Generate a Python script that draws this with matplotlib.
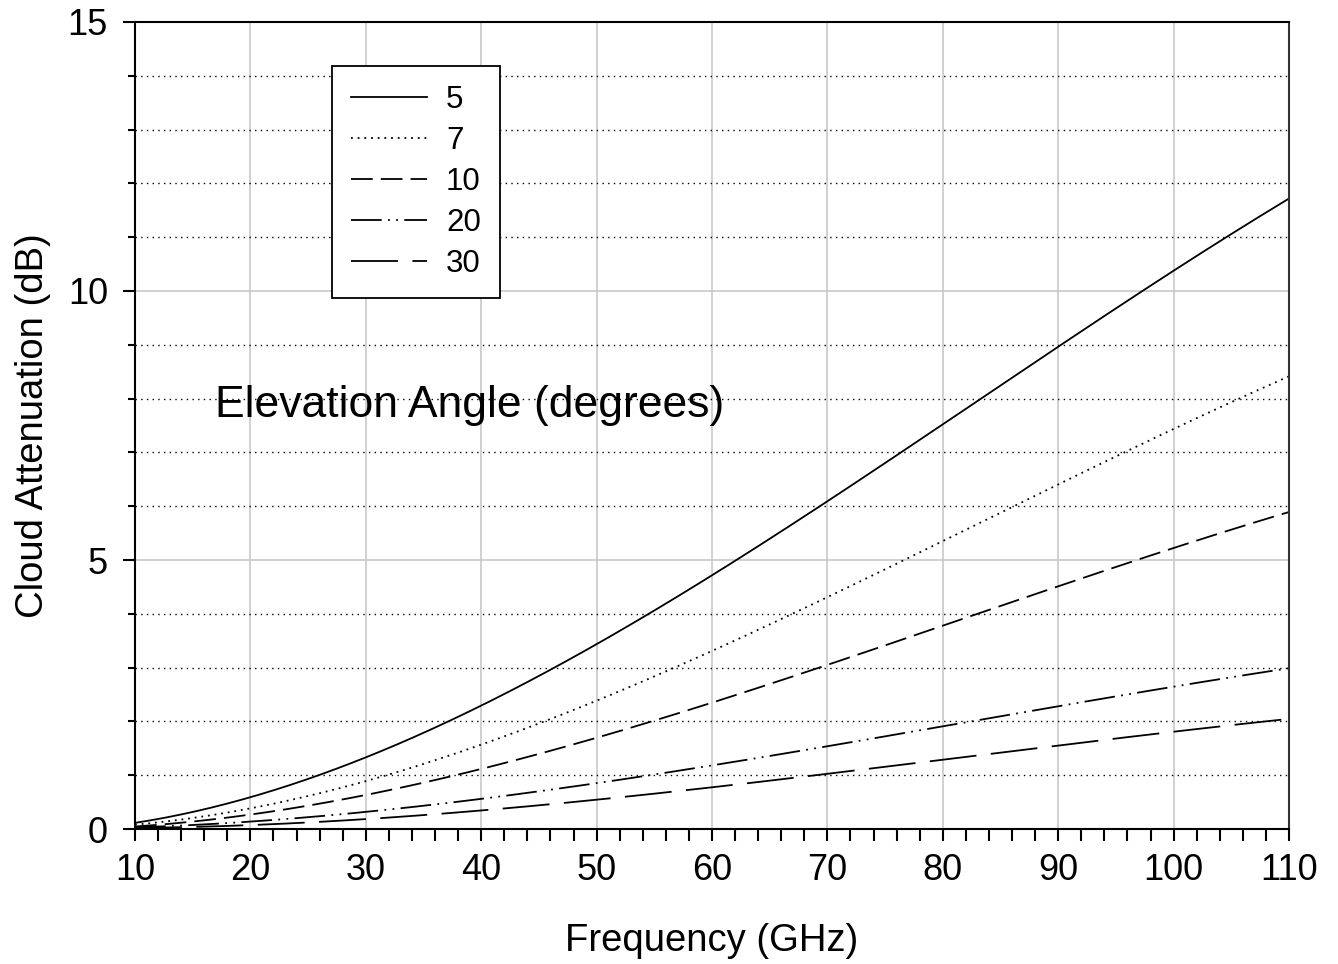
import numpy as np
import matplotlib
matplotlib.use("Agg")
import matplotlib.pyplot as plt
from matplotlib.ticker import MultipleLocator

plt.rcParams["font.family"] = ["Liberation Sans", "DejaVu Sans"]

# Frequency (GHz) and cloud attenuation (dB)
freq = [10, 20, 30, 40, 50, 60, 70, 80, 90, 100, 110]
att_5 = [0.13, 0.59, 1.28, 2.29, 3.51, 4.72, 6.06, 7.50, 9.00, 10.35, 11.73]
att_7 = [0.09, 0.39, 0.86, 1.56, 2.40, 3.33, 4.31, 5.37, 6.39, 7.40, 8.44]
att_10 = [0.06, 0.26, 0.61, 1.12, 1.71, 2.36, 3.05, 3.79, 4.50, 5.20, 5.91]
att_20 = [0.03, 0.14, 0.32, 0.56, 0.86, 1.17, 1.54, 1.91, 2.29, 2.64, 2.99]
att_30 = [0.02, 0.07, 0.19, 0.35, 0.54, 0.78, 1.02, 1.28, 1.56, 1.82, 2.04]

series = [
    ("5", att_5, "-"),
    ("7", att_7, (0, (1, 2.7))),
    ("10", att_10, (0, (12, 4.5))),
    ("20", att_20, (0, (17, 3.5, 1, 3.5, 1, 3.5))),
    ("30", att_30, (0, (26, 8))),
]

fig = plt.figure(figsize=(13.38, 9.64), dpi=100)
ax = fig.add_axes([0.1009, 0.1400, 0.8625, 0.8372])

# smooth curves through the read points
f_fine = np.linspace(10, 110, 300)
for label, vals, ls in series:
    coef = np.polyfit(freq, vals, 3)
    ax.plot(f_fine, np.polyval(coef, f_fine), color="black", lw=1.3,
            linestyle=ls, label=label)

ax.set_xlim(10, 110)
ax.set_ylim(0, 15)
ax.xaxis.set_major_locator(MultipleLocator(10))
ax.xaxis.set_minor_locator(MultipleLocator(2))
ax.yaxis.set_major_locator(MultipleLocator(5))
ax.yaxis.set_minor_locator(MultipleLocator(1))

ax.grid(which="major", axis="both", color="#c8c8c8", lw=1.2)
ax.grid(which="minor", axis="y", color="black", lw=1.0, linestyle=(0, (1, 3.1)))
ax.set_axisbelow(True)

ax.tick_params(which="major", direction="out", length=8.5, width=1.5,
               labelsize=26, pad=9)
ax.tick_params(axis="y", which="major", pad=11)
ax.tick_params(axis="x", which="minor", direction="out", length=8.5, width=1.5)
ax.tick_params(axis="y", which="minor", direction="out", length=5, width=1.5)
for sp in ax.spines.values():
    sp.set_linewidth(1.5)
ax.spines["right"].set_color("#333333")

ax.set_xlabel("Frequency (GHz)", fontsize=27.5, labelpad=25)
ax.set_ylabel("Cloud Attenuation (dB)", fontsize=27.5, labelpad=12)

ax.text(16.9, 7.88, "Elevation Angle (degrees)", fontsize=32,
        ha="left", va="center")

leg = ax.legend(loc="upper left", bbox_to_anchor=(0.1707, 0.9455),
                fontsize=22.5, handlelength=2.43, labelspacing=0.35,
                borderpad=0.62, handletextpad=0.6, fancybox=False,
                framealpha=1, edgecolor="black", borderaxespad=0)
leg.get_frame().set_linewidth(1.3)

fig.savefig("out.png", dpi=100)
